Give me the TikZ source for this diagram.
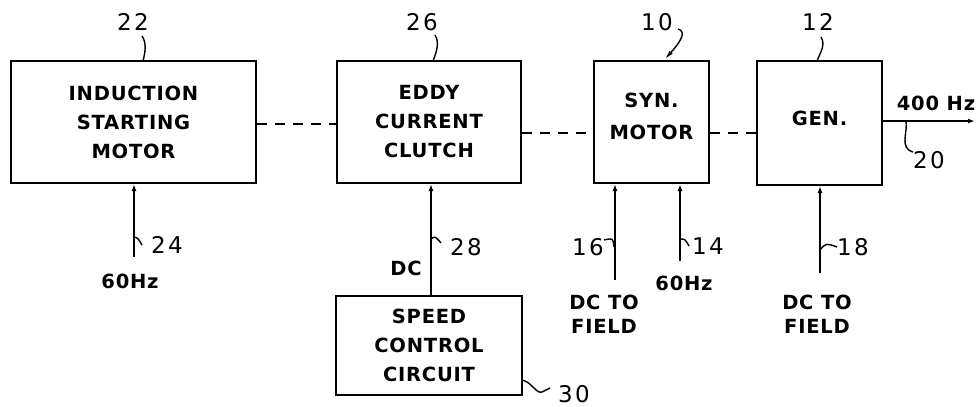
\documentclass[tikz,border=0pt]{standalone}
\usepackage{fontspec}
\setmainfont{DejaVu Sans}
\newfontfamily\blockfont[LetterSpace=4]{DejaVu Sans}
\newfontfamily\numfont[LetterSpace=10]{DejaVu Sans}
\usetikzlibrary{arrows.meta}
\begin{document}
\begin{tikzpicture}[x=1pt,y=-1pt,
  blk/.style={draw, line width=2pt, inner sep=0pt, align=center,
    font=\blockfont\bfseries\fontsize{19.5}{29}\selectfont},
  txt/.style={inner sep=0pt, align=center,
    font=\blockfont\bfseries\fontsize{19.5}{24}\selectfont},
  num/.style={inner sep=0pt, font=\numfont\fontsize{23}{23}\selectfont},
  arr/.style={line width=1.8pt, -{Latex[length=7pt,width=5pt]}},
  lead/.style={line width=1.4pt},
  link/.style={line width=1.8pt, dash pattern=on 10pt off 8pt}]
\useasboundingbox (0,0) rectangle (978,407);
% boxes
\node[blk, minimum width=245pt, minimum height=122pt] (b22) at (133.5,122) {INDUCTION\\STARTING\\MOTOR};
\node[blk, minimum width=184pt, minimum height=122pt] (b26) at (429,122) {EDDY\\CURRENT\\CLUTCH};
\node[blk, minimum width=115pt, minimum height=122pt] (b10) at (651.5,122) {};
\node[txt] (t10) at (651.5,116) {SYN.\\[8pt]MOTOR};
\node[blk, minimum width=125pt, minimum height=124pt] (b12) at (819.5,123) {};
\node[txt] (t12) at (819.5,118) {GEN.};
\node[blk, minimum width=186pt, minimum height=99pt] (b30) at (429,345.5) {SPEED\\CONTROL\\CIRCUIT};
% mechanical links
\draw[link] ([yshift=-2pt]b22.east) -- ([yshift=-2pt]b22.east -| b26.west);
\draw[link] ([yshift=-11pt]b26.east) -- ([yshift=-11pt]b26.east -| b10.west);
\draw[link] ([yshift=-11pt]b10.east) -- ([yshift=-11pt]b10.east -| b12.west);
% inputs
\coordinate (i24) at (134,257);
\coordinate (i16) at (615,280);
\coordinate (i14) at (680,261);
\coordinate (i18) at (820,273);
\coordinate (o20) at (975,121);
\draw[arr] (i24) -- (i24 |- b22.south);
\draw[arr] ([xshift=2pt]b30.north) -- ([xshift=2pt]b26.south);
\draw[arr] (i16) -- (i16 |- b10.south);
\draw[arr] (i14) -- (i14 |- b10.south);
\draw[arr] (i18) -- (i18 |- b12.south);
\draw[arr] ([yshift=2pt]b12.east) -- (o20);
% signal texts
\node[txt] (t60a) at (130,281) {60Hz};
\node[txt] (tdc) at (406,268) {DC};
\node[txt] (t16) at (604,314) {DC TO\\FIELD};
\node[txt] (t60b) at (684,283) {60Hz};
\node[txt] (t18) at (817,314) {DC TO\\FIELD};
\node[txt] (t400) at (936,103) {400 Hz};
% reference numerals
\node[num] (n22) at (133,22) {22};
\node[num] (n26) at (422,22) {26};
\node[num] (n10) at (657,22) {10};
\node[num] (n12) at (818,22) {12};
\node[num] (n20) at (929,160) {20};
\node[num] (n24) at (167,245) {24};
\node[num] (n28) at (466,247) {28};
\node[num] (n16) at (588,247) {16};
\node[num] (n14) at (708,246) {14};
\node[num] (n18) at (853,247) {18};
\node[num] (n30) at (574,394) {30};
% leaders
\draw[lead] (142,36) .. controls (147,43) and (145,53) .. (143,61);
\draw[lead] (435,35) .. controls (440,43) and (436,53) .. (433,61);
\draw[lead, -{Latex[length=9pt,width=4.5pt]}] (678,29) .. controls (685,31) and (684,38) .. (665,59);
\draw[lead] (821,37) .. controls (826,45) and (820,53) .. (817,61);
\draw[lead] (906,121) .. controls (908,132) and (899,148) .. (913,152);
\draw[lead] (134,237) .. controls (138,238) .. (142,245);
\draw[lead] (431,239) .. controls (435,236) .. (441,243);
\draw[lead] (604,240) .. controls (613,238) .. (614,247);
\draw[lead] (680,239) .. controls (685,239) .. (689,246);
\draw[lead] (820,250) .. controls (826,243) .. (837,247);
\draw[lead] (522,380) .. controls (532,382) and (536,394) .. (542,392) .. controls (546,390) .. (550,388);
\end{tikzpicture}
\end{document}
